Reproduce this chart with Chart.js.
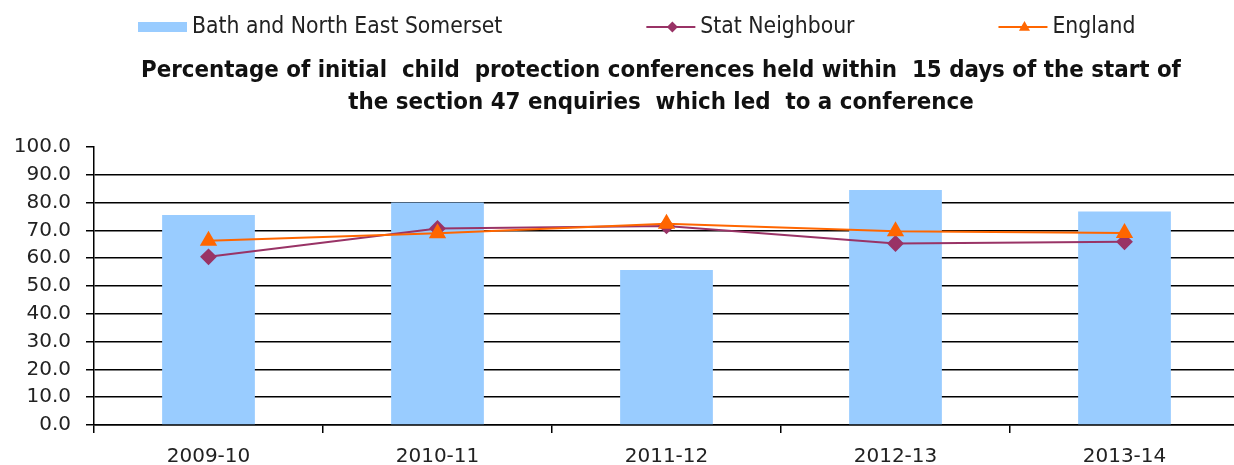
<!DOCTYPE html>
<html>
<head>
<meta charset="utf-8">
<script src="https://cdn.jsdelivr.net/npm/chart.js@4"></script>
<style>
  html, body { margin: 0; padding: 0; background: #fff; overflow: hidden; }
  #wrap { position: relative; width: 1249px; height: 465px; }
</style>
</head>
<body>
<div id="wrap"><canvas id="chart" width="1249" height="465"></canvas></div>
<script>
const years = ['2009-10', '2010-11', '2011-12', '2012-13', '2013-14'];
const bathValues = [75.5, 80.0, 55.8, 84.5, 76.8];
const statNeighbourValues = [60.5, 70.7, 71.6, 65.3, 65.9];
const englandValues = [66.3, 69.0, 72.4, 69.7, 69.1];
const titleLines = [
  'Percentage of initial  child  protection conferences held within  15 days of the start of',
  'the section 47 enquiries  which led  to a conference'
];

const textColor = '#222';
const tickFont = { family: '"DejaVu Sans", Verdana, sans-serif', size: 20 };

function drawMarker(ctx, style, x, y, r, color) {
  ctx.fillStyle = color;
  ctx.beginPath();
  if (style === 'rectRot') {
    ctx.moveTo(x, y - r);
    ctx.lineTo(x + r, y);
    ctx.lineTo(x, y + r);
    ctx.lineTo(x - r, y);
  } else {
    ctx.moveTo(x, y - r * 1.1);
    ctx.lineTo(x + r, y + r * 0.7);
    ctx.lineTo(x - r, y + r * 0.7);
  }
  ctx.closePath();
  ctx.fill();
}

// legend en titel zelf tekenen, zodat ze op de juiste plek staan
const headerPlugin = {
  id: 'header',
  afterDraw(chart) {
    const ctx = chart.ctx;
    ctx.save();
    ctx.textBaseline = 'alphabetic';
    ctx.font = '22.7px "DejaVu Sans Condensed", "DejaVu Sans", sans-serif';
    let x = 138;
    const y = 27;
    chart.data.datasets.forEach(d => {
      if (d.type === 'bar') {
        ctx.fillStyle = d.backgroundColor;
        ctx.fillRect(x, y - 5, 49, 10);
      } else {
        ctx.strokeStyle = d.borderColor;
        ctx.lineWidth = 2;
        ctx.beginPath();
        ctx.moveTo(x, y);
        ctx.lineTo(x + 49, y);
        ctx.stroke();
        drawMarker(ctx, d.pointStyle, x + 26, y, 5.5, d.borderColor);
      }
      x += 49;
      ctx.fillStyle = textColor;
      ctx.fillText(d.label, x + 5, 33);
      x += 5 + ctx.measureText(d.label).width + 144;
    });

    ctx.font = 'bold 23.8px "DejaVu Sans Condensed", "DejaVu Sans", sans-serif';
    ctx.fillStyle = '#111';
    ctx.textAlign = 'center';
    ctx.fillText(titleLines[0], 661, 77);
    ctx.fillText(titleLines[1], 661, 109);
    ctx.restore();
  }
};

new Chart(document.getElementById('chart'), {
  data: {
    labels: years,
    datasets: [
      {
        type: 'bar',
        label: 'Bath and North East Somerset',
        data: bathValues,
        backgroundColor: '#99ccff',
        barPercentage: 0.405,
        categoryPercentage: 1,
        order: 3
      },
      {
        type: 'line',
        label: 'Stat Neighbour',
        data: statNeighbourValues,
        borderColor: '#993366',
        backgroundColor: '#993366',
        borderWidth: 2,
        pointStyle: 'rectRot',
        pointRadius: 7,
        pointBackgroundColor: '#993366',
        pointBorderColor: '#993366',
        tension: 0,
        fill: false,
        order: 2
      },
      {
        type: 'line',
        label: 'England',
        data: englandValues,
        borderColor: '#ff6600',
        backgroundColor: '#ff6600',
        borderWidth: 2,
        pointStyle: 'triangle',
        pointRadius: 8,
        pointBackgroundColor: '#ff6600',
        pointBorderColor: '#ff6600',
        tension: 0,
        fill: false,
        order: 1
      }
    ]
  },
  options: {
    responsive: false,
    animation: false,
    layout: { padding: { top: 147, right: 1, left: 0, bottom: 0 } },
    plugins: {
      legend: { display: false },
      title: { display: false },
      tooltip: { enabled: false }
    },
    scales: {
      x: {
        grid: {
          drawOnChartArea: false,
          drawTicks: true,
          tickLength: 8,
          color: '#000',
          lineWidth: 1.5,
          offset: true
        },
        border: { color: '#000', width: 1.5 },
        ticks: { color: textColor, font: tickFont, padding: 12, maxRotation: 0 },
        afterFit(scale) { scale.height = 40; }
      },
      y: {
        min: 0,
        max: 100,
        grid: {
          color: c => (c.tick && c.tick.value === 100 ? 'rgba(0,0,0,0)' : '#000'),
          tickColor: '#000',
          lineWidth: 1.5,
          tickLength: 8
        },
        border: { color: '#000', width: 1.5 },
        ticks: {
          stepSize: 10,
          color: textColor,
          font: tickFont,
          padding: 15,
          callback: v => v.toFixed(1)
        },
        afterFit(scale) { scale.width = 94; }
      }
    }
  },
  plugins: [headerPlugin]
});
</script>
</body>
</html>
